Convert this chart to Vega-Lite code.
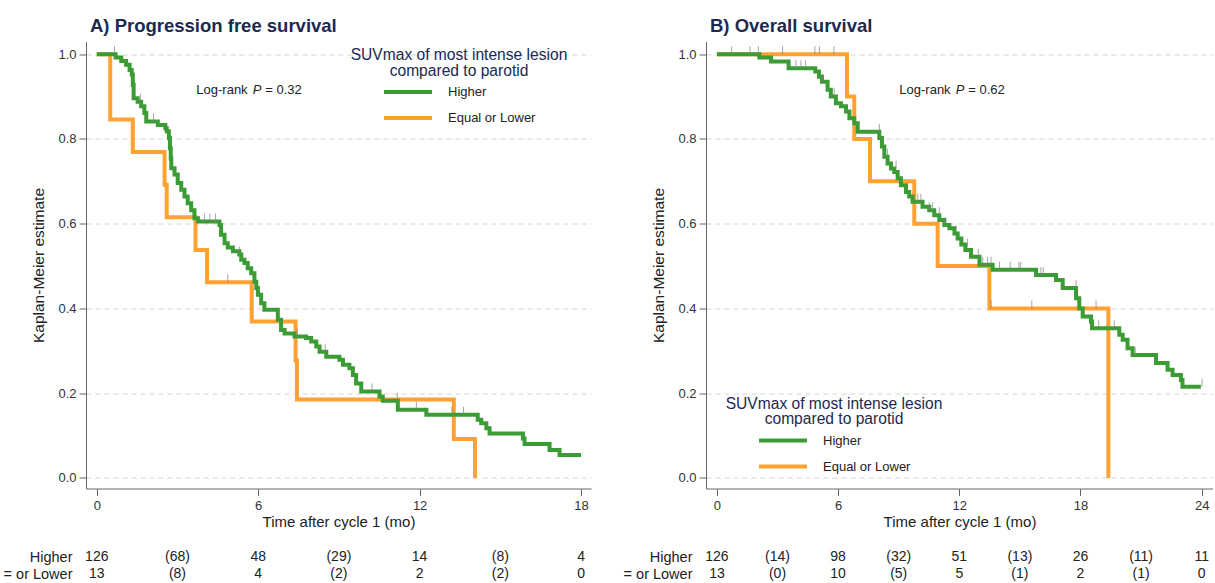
{
  "$schema": "https://vega.github.io/schema/vega-lite/v6.json",
  "padding": {"left": 3, "top": 16.5, "right": 0, "bottom": 0},
  "config": {
    "font": "Liberation Sans",
    "view": {"stroke": null},
    "axis": {"labelFont": "Liberation Sans", "labelFontSize": 13, "labelColor": "#333", "titleFont": "Liberation Sans", "titleFontSize": 15, "titleFontWeight": "normal", "titleColor": "#222", "domainColor": "#666", "tickColor": "#666", "tickSize": 7},
    "legend": {"labelFont": "Liberation Sans", "titleFont": "Liberation Sans"},
    "title": {"font": "Liberation Sans"}
  },
  "datasets": {
    "pfs": [
      {"group": "Equal or Lower", "t": 0, "s": 1},
      {"group": "Equal or Lower", "t": 0.5, "s": 0.846},
      {"group": "Equal or Lower", "t": 1.34, "s": 0.769},
      {"group": "Equal or Lower", "t": 2.52, "s": 0.692},
      {"group": "Equal or Lower", "t": 2.6, "s": 0.615},
      {"group": "Equal or Lower", "t": 3.67, "s": 0.538},
      {"group": "Equal or Lower", "t": 4.1, "s": 0.462},
      {"group": "Equal or Lower", "t": 5.76, "s": 0.369},
      {"group": "Equal or Lower", "t": 7.39, "s": 0.277},
      {"group": "Equal or Lower", "t": 7.44, "s": 0.185},
      {"group": "Equal or Lower", "t": 13.27, "s": 0.092},
      {"group": "Equal or Lower", "t": 14.06, "s": 0.0},
      {"group": "Higher", "t": 0, "s": 1},
      {"group": "Higher", "t": 0.7, "s": 0.992},
      {"group": "Higher", "t": 0.91, "s": 0.984},
      {"group": "Higher", "t": 1.09, "s": 0.975},
      {"group": "Higher", "t": 1.22, "s": 0.963},
      {"group": "Higher", "t": 1.3, "s": 0.952},
      {"group": "Higher", "t": 1.34, "s": 0.928},
      {"group": "Higher", "t": 1.37, "s": 0.896},
      {"group": "Higher", "t": 1.52, "s": 0.888},
      {"group": "Higher", "t": 1.65, "s": 0.877},
      {"group": "Higher", "t": 1.77, "s": 0.861},
      {"group": "Higher", "t": 1.84, "s": 0.841},
      {"group": "Higher", "t": 2.27, "s": 0.833},
      {"group": "Higher", "t": 2.55, "s": 0.825},
      {"group": "Higher", "t": 2.6, "s": 0.818},
      {"group": "Higher", "t": 2.68, "s": 0.802},
      {"group": "Higher", "t": 2.72, "s": 0.778},
      {"group": "Higher", "t": 2.75, "s": 0.754},
      {"group": "Higher", "t": 2.77, "s": 0.731},
      {"group": "Higher", "t": 2.89, "s": 0.716},
      {"group": "Higher", "t": 3.01, "s": 0.696},
      {"group": "Higher", "t": 3.14, "s": 0.68},
      {"group": "Higher", "t": 3.26, "s": 0.664},
      {"group": "Higher", "t": 3.38, "s": 0.648},
      {"group": "Higher", "t": 3.51, "s": 0.632},
      {"group": "Higher", "t": 3.63, "s": 0.613},
      {"group": "Higher", "t": 3.76, "s": 0.605},
      {"group": "Higher", "t": 4.56, "s": 0.597},
      {"group": "Higher", "t": 4.62, "s": 0.574},
      {"group": "Higher", "t": 4.75, "s": 0.554},
      {"group": "Higher", "t": 4.87, "s": 0.544},
      {"group": "Higher", "t": 5.06, "s": 0.535},
      {"group": "Higher", "t": 5.3, "s": 0.527},
      {"group": "Higher", "t": 5.37, "s": 0.515},
      {"group": "Higher", "t": 5.49, "s": 0.507},
      {"group": "Higher", "t": 5.61, "s": 0.495},
      {"group": "Higher", "t": 5.74, "s": 0.483},
      {"group": "Higher", "t": 5.86, "s": 0.463},
      {"group": "Higher", "t": 5.93, "s": 0.448},
      {"group": "Higher", "t": 5.99, "s": 0.432},
      {"group": "Higher", "t": 6.11, "s": 0.412},
      {"group": "Higher", "t": 6.23, "s": 0.397},
      {"group": "Higher", "t": 6.73, "s": 0.373},
      {"group": "Higher", "t": 6.85, "s": 0.349},
      {"group": "Higher", "t": 6.98, "s": 0.341},
      {"group": "Higher", "t": 7.35, "s": 0.334},
      {"group": "Higher", "t": 7.78, "s": 0.33},
      {"group": "Higher", "t": 7.97, "s": 0.322},
      {"group": "Higher", "t": 8.16, "s": 0.31},
      {"group": "Higher", "t": 8.28, "s": 0.298},
      {"group": "Higher", "t": 8.53, "s": 0.286},
      {"group": "Higher", "t": 9.02, "s": 0.279},
      {"group": "Higher", "t": 9.15, "s": 0.267},
      {"group": "Higher", "t": 9.39, "s": 0.259},
      {"group": "Higher", "t": 9.52, "s": 0.243},
      {"group": "Higher", "t": 9.64, "s": 0.223},
      {"group": "Higher", "t": 9.83, "s": 0.204},
      {"group": "Higher", "t": 10.51, "s": 0.192},
      {"group": "Higher", "t": 10.63, "s": 0.182},
      {"group": "Higher", "t": 11.19, "s": 0.161},
      {"group": "Higher", "t": 12.25, "s": 0.149},
      {"group": "Higher", "t": 14.16, "s": 0.137},
      {"group": "Higher", "t": 14.29, "s": 0.129},
      {"group": "Higher", "t": 14.48, "s": 0.117},
      {"group": "Higher", "t": 14.6, "s": 0.105},
      {"group": "Higher", "t": 15.84, "s": 0.093},
      {"group": "Higher", "t": 15.9, "s": 0.08},
      {"group": "Higher", "t": 16.83, "s": 0.066},
      {"group": "Higher", "t": 17.2, "s": 0.054},
      {"group": "Higher", "t": 18.0, "s": 0.054}
    ],
    "pfs_cens": [
      {"group": "Higher", "t": 0.66, "s": 1.0},
      {"group": "Higher", "t": 1.62, "s": 0.888},
      {"group": "Higher", "t": 2.11, "s": 0.841},
      {"group": "Higher", "t": 4.0, "s": 0.605},
      {"group": "Higher", "t": 4.2, "s": 0.605},
      {"group": "Higher", "t": 4.41, "s": 0.605},
      {"group": "Higher", "t": 5.3, "s": 0.527},
      {"group": "Higher", "t": 7.45, "s": 0.334},
      {"group": "Higher", "t": 8.49, "s": 0.298},
      {"group": "Higher", "t": 10.23, "s": 0.204},
      {"group": "Higher", "t": 11.17, "s": 0.182},
      {"group": "Higher", "t": 11.88, "s": 0.161},
      {"group": "Higher", "t": 13.21, "s": 0.149},
      {"group": "Higher", "t": 13.63, "s": 0.149},
      {"group": "Equal or Lower", "t": 4.87, "s": 0.462}
    ],
    "os": [
      {"group": "Equal or Lower", "t": 0, "s": 1},
      {"group": "Equal or Lower", "t": 6.44, "s": 0.9},
      {"group": "Equal or Lower", "t": 6.8, "s": 0.8},
      {"group": "Equal or Lower", "t": 7.58, "s": 0.7},
      {"group": "Equal or Lower", "t": 9.77, "s": 0.6},
      {"group": "Equal or Lower", "t": 10.93, "s": 0.5},
      {"group": "Equal or Lower", "t": 13.49, "s": 0.4},
      {"group": "Equal or Lower", "t": 19.38, "s": 0.0},
      {"group": "Higher", "t": 0, "s": 1},
      {"group": "Higher", "t": 2.1, "s": 0.992},
      {"group": "Higher", "t": 2.68, "s": 0.983},
      {"group": "Higher", "t": 3.55, "s": 0.967},
      {"group": "Higher", "t": 4.87, "s": 0.959},
      {"group": "Higher", "t": 5.05, "s": 0.947},
      {"group": "Higher", "t": 5.2, "s": 0.935},
      {"group": "Higher", "t": 5.48, "s": 0.916},
      {"group": "Higher", "t": 5.64, "s": 0.9},
      {"group": "Higher", "t": 5.89, "s": 0.884},
      {"group": "Higher", "t": 6.14, "s": 0.877},
      {"group": "Higher", "t": 6.39, "s": 0.865},
      {"group": "Higher", "t": 6.56, "s": 0.849},
      {"group": "Higher", "t": 6.8, "s": 0.837},
      {"group": "Higher", "t": 6.97, "s": 0.817},
      {"group": "Higher", "t": 8.04, "s": 0.802},
      {"group": "Higher", "t": 8.17, "s": 0.782},
      {"group": "Higher", "t": 8.29, "s": 0.758},
      {"group": "Higher", "t": 8.45, "s": 0.742},
      {"group": "Higher", "t": 8.62, "s": 0.73},
      {"group": "Higher", "t": 8.78, "s": 0.722},
      {"group": "Higher", "t": 8.95, "s": 0.707},
      {"group": "Higher", "t": 9.11, "s": 0.691},
      {"group": "Higher", "t": 9.36, "s": 0.675},
      {"group": "Higher", "t": 9.52, "s": 0.664},
      {"group": "Higher", "t": 9.69, "s": 0.652},
      {"group": "Higher", "t": 10.18, "s": 0.64},
      {"group": "Higher", "t": 10.51, "s": 0.632},
      {"group": "Higher", "t": 10.76, "s": 0.62},
      {"group": "Higher", "t": 11.01, "s": 0.609},
      {"group": "Higher", "t": 11.26, "s": 0.597},
      {"group": "Higher", "t": 11.51, "s": 0.589},
      {"group": "Higher", "t": 11.76, "s": 0.577},
      {"group": "Higher", "t": 11.92, "s": 0.565},
      {"group": "Higher", "t": 12.1, "s": 0.551},
      {"group": "Higher", "t": 12.3, "s": 0.538},
      {"group": "Higher", "t": 12.58, "s": 0.522},
      {"group": "Higher", "t": 13.0, "s": 0.503},
      {"group": "Higher", "t": 13.65, "s": 0.491},
      {"group": "Higher", "t": 15.8, "s": 0.479},
      {"group": "Higher", "t": 16.79, "s": 0.467},
      {"group": "Higher", "t": 17.12, "s": 0.448},
      {"group": "Higher", "t": 17.78, "s": 0.424},
      {"group": "Higher", "t": 17.94, "s": 0.4},
      {"group": "Higher", "t": 18.11, "s": 0.381},
      {"group": "Higher", "t": 18.52, "s": 0.369},
      {"group": "Higher", "t": 18.57, "s": 0.353},
      {"group": "Higher", "t": 19.92, "s": 0.338},
      {"group": "Higher", "t": 20.09, "s": 0.326},
      {"group": "Higher", "t": 20.33, "s": 0.306},
      {"group": "Higher", "t": 20.58, "s": 0.29},
      {"group": "Higher", "t": 21.74, "s": 0.271},
      {"group": "Higher", "t": 22.31, "s": 0.255},
      {"group": "Higher", "t": 22.56, "s": 0.243},
      {"group": "Higher", "t": 22.97, "s": 0.231},
      {"group": "Higher", "t": 23.05, "s": 0.215},
      {"group": "Higher", "t": 23.96, "s": 0.215}
    ],
    "os_cens": [
      {"group": "Higher", "t": 0.73, "s": 1.0},
      {"group": "Higher", "t": 1.64, "s": 1.0},
      {"group": "Higher", "t": 2.05, "s": 1.0},
      {"group": "Equal or Lower", "t": 3.25, "s": 1.0},
      {"group": "Equal or Lower", "t": 4.85, "s": 1.0},
      {"group": "Equal or Lower", "t": 5.07, "s": 1.0},
      {"group": "Equal or Lower", "t": 5.79, "s": 1.0},
      {"group": "Higher", "t": 3.91, "s": 0.967},
      {"group": "Higher", "t": 4.16, "s": 0.967},
      {"group": "Higher", "t": 4.38, "s": 0.967},
      {"group": "Higher", "t": 5.23, "s": 0.935},
      {"group": "Higher", "t": 5.81, "s": 0.9},
      {"group": "Higher", "t": 8.04, "s": 0.817},
      {"group": "Higher", "t": 8.45, "s": 0.758},
      {"group": "Higher", "t": 8.87, "s": 0.73},
      {"group": "Higher", "t": 9.94, "s": 0.652},
      {"group": "Higher", "t": 10.1, "s": 0.652},
      {"group": "Higher", "t": 10.51, "s": 0.632},
      {"group": "Higher", "t": 10.68, "s": 0.632},
      {"group": "Higher", "t": 11.01, "s": 0.62},
      {"group": "Higher", "t": 11.3, "s": 0.597},
      {"group": "Higher", "t": 11.83, "s": 0.577},
      {"group": "Higher", "t": 12.41, "s": 0.546},
      {"group": "Higher", "t": 12.94, "s": 0.522},
      {"group": "Higher", "t": 13.16, "s": 0.503},
      {"group": "Higher", "t": 13.4, "s": 0.503},
      {"group": "Higher", "t": 13.57, "s": 0.503},
      {"group": "Higher", "t": 13.99, "s": 0.491},
      {"group": "Higher", "t": 14.52, "s": 0.491},
      {"group": "Higher", "t": 14.95, "s": 0.491},
      {"group": "Higher", "t": 15.04, "s": 0.491},
      {"group": "Higher", "t": 16.04, "s": 0.479},
      {"group": "Higher", "t": 16.16, "s": 0.479},
      {"group": "Higher", "t": 17.78, "s": 0.448},
      {"group": "Higher", "t": 18.9, "s": 0.353},
      {"group": "Higher", "t": 19.67, "s": 0.353},
      {"group": "Higher", "t": 20.71, "s": 0.29},
      {"group": "Higher", "t": 24.02, "s": 0.215},
      {"group": "Equal or Lower", "t": 13.57, "s": 0.4},
      {"group": "Equal or Lower", "t": 15.59, "s": 0.4},
      {"group": "Equal or Lower", "t": 18.77, "s": 0.4}
    ],
    "risk_pfs": [
      {"row": "Higher", "t": 0, "n": "126"},
      {"row": "Higher", "t": 3, "n": "(68)"},
      {"row": "Higher", "t": 6, "n": "48"},
      {"row": "Higher", "t": 9, "n": "(29)"},
      {"row": "Higher", "t": 12, "n": "14"},
      {"row": "Higher", "t": 15, "n": "(8)"},
      {"row": "Higher", "t": 18, "n": "4"},
      {"row": "= or Lower", "t": 0, "n": "13"},
      {"row": "= or Lower", "t": 3, "n": "(8)"},
      {"row": "= or Lower", "t": 6, "n": "4"},
      {"row": "= or Lower", "t": 9, "n": "(2)"},
      {"row": "= or Lower", "t": 12, "n": "2"},
      {"row": "= or Lower", "t": 15, "n": "(2)"},
      {"row": "= or Lower", "t": 18, "n": "0"}
    ],
    "risk_os": [
      {"row": "Higher", "t": 0, "n": "126"},
      {"row": "Higher", "t": 3, "n": "(14)"},
      {"row": "Higher", "t": 6, "n": "98"},
      {"row": "Higher", "t": 9, "n": "(32)"},
      {"row": "Higher", "t": 12, "n": "51"},
      {"row": "Higher", "t": 15, "n": "(13)"},
      {"row": "Higher", "t": 18, "n": "26"},
      {"row": "Higher", "t": 21, "n": "(11)"},
      {"row": "Higher", "t": 24, "n": "11"},
      {"row": "= or Lower", "t": 0, "n": "13"},
      {"row": "= or Lower", "t": 3, "n": "(0)"},
      {"row": "= or Lower", "t": 6, "n": "10"},
      {"row": "= or Lower", "t": 9, "n": "(5)"},
      {"row": "= or Lower", "t": 12, "n": "5"},
      {"row": "= or Lower", "t": 15, "n": "(1)"},
      {"row": "= or Lower", "t": 18, "n": "2"},
      {"row": "= or Lower", "t": 21, "n": "(1)"},
      {"row": "= or Lower", "t": 24, "n": "0"}
    ],
    "notes": [
      {"part": "Log-rank", "italic": "P", "rest": "= 0.32", "panel": "A"},
      {"part": "Log-rank", "italic": "P", "rest": "= 0.62", "panel": "B"}
    ]
  },
  "hconcat": [
    {
      "spacing": 19,
      "vconcat": [
        {
          "width": 505,
          "height": 447,
          "title": {"text": "A) Progression free survival", "anchor": "start", "frame": "group", "fontSize": 18.5, "fontWeight": "bold", "color": "#1c2951", "dx": 4, "offset": 6},
          "layer": [
            {
              "data": {"name": "pfs"},
              "transform": [{"filter": "datum.group === 'Equal or Lower'"}],
              "mark": {"type": "line", "interpolate": "step-after", "strokeWidth": 4},
              "encoding": {
                "x": {"field": "t", "type": "quantitative", "scale": {"domain": [-0.4, 18.37], "nice": false, "zero": false}, "axis": {"values": [0, 6, 12, 18], "grid": false, "title": "Time after cycle 1 (mo)", "labelPadding": 4, "titlePadding": 2}},
                "y": {"field": "s", "type": "quantitative", "scale": {"domain": [-0.025, 1.03], "nice": false, "zero": false}, "axis": {"values": [0, 0.2, 0.4, 0.6, 0.8, 1], "format": ".1f", "grid": true, "gridDash": [5, 4], "gridColor": "#d4d4d4", "title": "Kaplan-Meier estimate", "titleFontSize": 15.5, "titlePadding": 11, "labelPadding": 3}},
                "color": {"field": "group", "type": "nominal", "scale": {"domain": ["Higher", "Equal or Lower"], "range": ["#3b9b35", "#ffa133"]},
                  "legend": {"orient": "none", "legendX": 265, "legendY": 6.5, "title": ["SUVmax of most intense lesion", "compared to parotid"], "titleLimit": 500, "titleFontSize": 15.6, "titleFontWeight": "normal", "titleColor": "#1c2951", "titleAlign": "center", "titleAnchor": "middle", "titleLineHeight": 15.5, "titlePadding": 5, "labelFontSize": 13, "labelColor": "#222", "symbolType": "stroke", "symbolSize": 2304, "symbolStrokeWidth": 4, "labelOffset": 14, "clipHeight": 16, "rowPadding": 10, "padding": 0}}
              }
            },
            {
              "data": {"name": "pfs"},
              "transform": [{"filter": "datum.group === 'Higher'"}],
              "mark": {"type": "line", "interpolate": "step-after", "strokeWidth": 4},
              "encoding": {"x": {"field": "t", "type": "quantitative"}, "y": {"field": "s", "type": "quantitative"}, "color": {"field": "group", "type": "nominal"}}
            },
            {
              "data": {"name": "pfs_cens"},
              "mark": {"type": "tick", "orient": "vertical", "size": 8, "thickness": 1, "color": "#808080", "yOffset": -4},
              "encoding": {"x": {"field": "t", "type": "quantitative"}, "y": {"field": "s", "type": "quantitative"}}
            },
            {
              "data": {"name": "notes"},
              "transform": [{"filter": "datum.panel === 'A'"}],
              "mark": {"type": "text", "align": "left", "baseline": "middle", "fontSize": 13, "color": "#222"},
              "encoding": {"x": {"datum": 3.7, "type": "quantitative"}, "y": {"datum": 0.916, "type": "quantitative"}, "text": {"field": "part"}}
            },
            {
              "data": {"name": "notes"},
              "transform": [{"filter": "datum.panel === 'A'"}],
              "mark": {"type": "text", "align": "left", "baseline": "middle", "fontSize": 13, "fontStyle": "italic", "color": "#222", "dx": 56.5},
              "encoding": {"x": {"datum": 3.7, "type": "quantitative"}, "y": {"datum": 0.916, "type": "quantitative"}, "text": {"field": "italic"}}
            },
            {
              "data": {"name": "notes"},
              "transform": [{"filter": "datum.panel === 'A'"}],
              "mark": {"type": "text", "align": "left", "baseline": "middle", "fontSize": 13, "color": "#222", "dx": 69},
              "encoding": {"x": {"datum": 3.7, "type": "quantitative"}, "y": {"datum": 0.916, "type": "quantitative"}, "text": {"field": "rest"}}
            }
          ]
        },
        {
          "width": 505,
          "height": 34,
          "data": {"name": "risk_pfs"},
          "mark": {"type": "text", "fontSize": 14, "color": "#222", "baseline": "middle"},
          "encoding": {
            "x": {"field": "t", "type": "quantitative", "scale": {"domain": [-0.4, 18.37], "nice": false, "zero": false}, "axis": null},
            "y": {"field": "row", "type": "nominal", "sort": ["Higher", "= or Lower"], "scale": {"paddingInner": 0, "paddingOuter": 0}, "axis": {"title": null, "domain": false, "ticks": false, "labelPadding": 14, "labelFontSize": 14.5, "labelColor": "#222"}},
            "text": {"field": "n"}
          }
        }
      ]
    },
    {
      "spacing": 19,
      "vconcat": [
        {
          "width": 507,
          "height": 447,
          "title": {"text": "B) Overall survival", "anchor": "start", "frame": "group", "fontSize": 18.5, "fontWeight": "bold", "color": "#1c2951", "dx": 4, "offset": 6},
          "layer": [
            {
              "data": {"name": "os"},
              "transform": [{"filter": "datum.group === 'Equal or Lower'"}],
              "mark": {"type": "line", "interpolate": "step-after", "strokeWidth": 4},
              "encoding": {
                "x": {"field": "t", "type": "quantitative", "scale": {"domain": [-0.54, 24.56], "nice": false, "zero": false}, "axis": {"values": [0, 6, 12, 18, 24], "grid": false, "title": "Time after cycle 1 (mo)", "labelPadding": 4, "titlePadding": 2}},
                "y": {"field": "s", "type": "quantitative", "scale": {"domain": [-0.025, 1.03], "nice": false, "zero": false}, "axis": {"values": [0, 0.2, 0.4, 0.6, 0.8, 1], "format": ".1f", "grid": true, "gridDash": [5, 4], "gridColor": "#d4d4d4", "title": "Kaplan-Meier estimate", "titleFontSize": 15.5, "titlePadding": 11, "labelPadding": 3}},
                "color": {"field": "group", "type": "nominal", "scale": {"domain": ["Higher", "Equal or Lower"], "range": ["#3b9b35", "#ffa133"]},
                  "legend": {"orient": "none", "legendX": 20, "legendY": 355, "title": ["SUVmax of most intense lesion", "compared to parotid"], "titleLimit": 500, "titleFontSize": 15.6, "titleFontWeight": "normal", "titleColor": "#1c2951", "titleAlign": "center", "titleAnchor": "middle", "titleLineHeight": 15.5, "titlePadding": 5, "labelFontSize": 13, "labelColor": "#222", "symbolType": "stroke", "symbolSize": 2304, "symbolStrokeWidth": 4, "labelOffset": 14, "clipHeight": 16, "rowPadding": 10, "padding": 0}}
              }
            },
            {
              "data": {"name": "os"},
              "transform": [{"filter": "datum.group === 'Higher'"}],
              "mark": {"type": "line", "interpolate": "step-after", "strokeWidth": 4},
              "encoding": {"x": {"field": "t", "type": "quantitative"}, "y": {"field": "s", "type": "quantitative"}, "color": {"field": "group", "type": "nominal"}}
            },
            {
              "data": {"name": "os_cens"},
              "mark": {"type": "tick", "orient": "vertical", "size": 8, "thickness": 1, "color": "#808080", "yOffset": -4},
              "encoding": {"x": {"field": "t", "type": "quantitative"}, "y": {"field": "s", "type": "quantitative"}}
            },
            {
              "data": {"name": "notes"},
              "transform": [{"filter": "datum.panel === 'B'"}],
              "mark": {"type": "text", "align": "left", "baseline": "middle", "fontSize": 13, "color": "#222"},
              "encoding": {"x": {"datum": 9.03, "type": "quantitative"}, "y": {"datum": 0.916, "type": "quantitative"}, "text": {"field": "part"}}
            },
            {
              "data": {"name": "notes"},
              "transform": [{"filter": "datum.panel === 'B'"}],
              "mark": {"type": "text", "align": "left", "baseline": "middle", "fontSize": 13, "fontStyle": "italic", "color": "#222", "dx": 56.5},
              "encoding": {"x": {"datum": 9.03, "type": "quantitative"}, "y": {"datum": 0.916, "type": "quantitative"}, "text": {"field": "italic"}}
            },
            {
              "data": {"name": "notes"},
              "transform": [{"filter": "datum.panel === 'B'"}],
              "mark": {"type": "text", "align": "left", "baseline": "middle", "fontSize": 13, "color": "#222", "dx": 69},
              "encoding": {"x": {"datum": 9.03, "type": "quantitative"}, "y": {"datum": 0.916, "type": "quantitative"}, "text": {"field": "rest"}}
            }
          ]
        },
        {
          "width": 507,
          "height": 34,
          "data": {"name": "risk_os"},
          "mark": {"type": "text", "fontSize": 14, "color": "#222", "baseline": "middle"},
          "encoding": {
            "x": {"field": "t", "type": "quantitative", "scale": {"domain": [-0.54, 24.56], "nice": false, "zero": false}, "axis": null},
            "y": {"field": "row", "type": "nominal", "sort": ["Higher", "= or Lower"], "scale": {"paddingInner": 0, "paddingOuter": 0}, "axis": {"title": null, "domain": false, "ticks": false, "labelPadding": 14, "labelFontSize": 14.5, "labelColor": "#222"}},
            "text": {"field": "n"}
          }
        }
      ]
    }
  ],
  "spacing": 32,
  "resolve": {"scale": {"color": "independent"}, "legend": {"color": "independent"}}
}
